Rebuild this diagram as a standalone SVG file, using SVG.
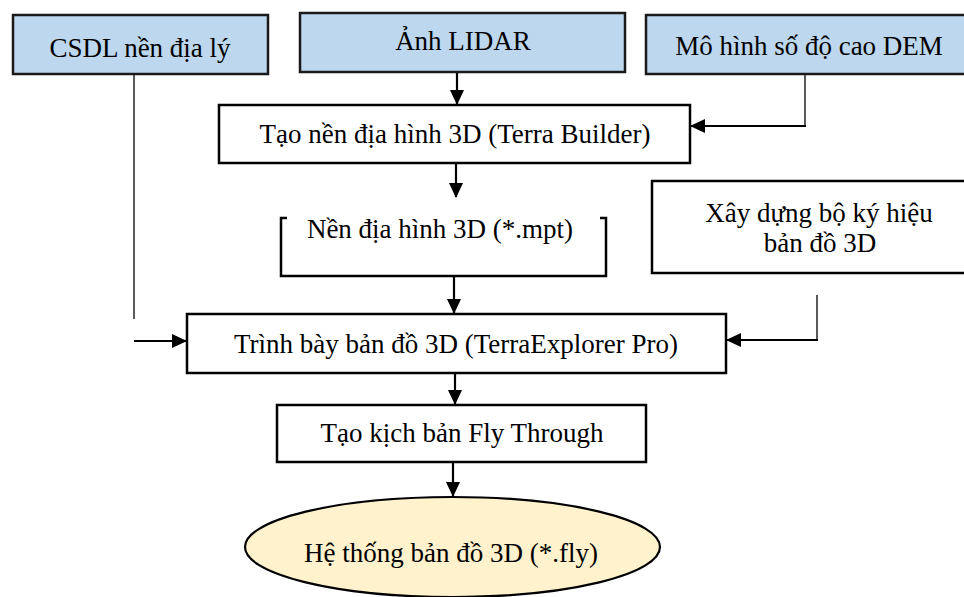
<svg xmlns="http://www.w3.org/2000/svg" width="964" height="597" viewBox="0 0 964 597">
<defs>
<marker id="ah" markerWidth="15" markerHeight="14" refX="14" refY="7" orient="auto" markerUnits="userSpaceOnUse">
<path d="M0,0 L15,7 L0,14 Z" fill="#000"/>
</marker>
<style>
.src{fill:#BDD7EE;stroke:#1a1a1a;stroke-width:2.5}
.box{fill:#fff;stroke:#000;stroke-width:2.5}
.t{font-family:"Liberation Serif","Times New Roman",serif;font-size:27px;fill:#000;text-anchor:middle}
.c{fill:none;stroke:#000;stroke-width:2.2}
.thin{fill:none;stroke:#000;stroke-width:1.3}
</style>
</defs>
<rect width="964" height="597" fill="#fff"/>
<g id="connectors">
<line class="thin" x1="134" y1="74" x2="134" y2="319"/>
<line class="c" x1="134" y1="341" x2="186" y2="341" marker-end="url(#ah)"/>
<line class="c" x1="457" y1="72" x2="457" y2="104" marker-end="url(#ah)"/>
<polyline class="thin" points="805,74 805,126"/>
<line class="c" x1="806" y1="126" x2="691" y2="126" marker-end="url(#ah)"/>
<line class="c" x1="456" y1="163" x2="456" y2="197" marker-end="url(#ah)"/>
<line class="c" x1="454" y1="276" x2="454" y2="313" marker-end="url(#ah)"/>
<polyline class="thin" points="817,295 817,340"/>
<line class="c" x1="818" y1="340" x2="727" y2="340" marker-end="url(#ah)"/>
<line class="c" x1="455" y1="373" x2="455" y2="404" marker-end="url(#ah)"/>
<line class="c" x1="453" y1="462" x2="453" y2="496" marker-end="url(#ah)"/>
</g>
<g id="csdl">
<rect class="src" x="13" y="15" width="255" height="59"/>
<text class="t" x="140" y="57">CSDL nền địa lý</text>
</g>
<g id="lidar">
<rect class="src" x="300" y="13" width="325" height="59"/>
<text class="t" x="463" y="50">Ảnh LIDAR</text>
</g>
<g id="dem">
<rect class="src" x="646" y="15" width="330" height="59"/>
<text class="t" x="809" y="55">Mô hình số độ cao DEM</text>
</g>
<g id="terrabuilder">
<rect class="box" x="219" y="105" width="471" height="58"/>
<text class="t" x="455" y="143">Tạo nền địa hình 3D (Terra Builder)</text>
</g>
<g id="mpt">
<path class="box" d="M287,218 H281 V276 H606 V218 H600" fill="none"/>
<text class="t" x="440" y="238">Nền địa hình 3D (*.mpt)</text>
</g>
<g id="kyhieu">
<rect class="box" x="652" y="181" width="330" height="92"/>
<text class="t" x="819" y="222">Xây dựng bộ ký hiệu</text>
<text class="t" x="820" y="252">bản đồ 3D</text>
</g>
<g id="trinhbay">
<rect class="box" x="187" y="314" width="539" height="59"/>
<text class="t" x="456" y="353">Trình bày bản đồ 3D (TerraExplorer Pro)</text>
</g>
<g id="flythrough">
<rect class="box" x="277" y="405" width="369" height="57"/>
<text class="t" x="462" y="442">Tạo kịch bản Fly Through</text>
</g>
<g id="fly">
<ellipse cx="452.5" cy="547" rx="207.5" ry="50" fill="#FFF2CC" stroke="#000" stroke-width="2.2"/>
<text class="t" x="451" y="562">Hệ thống bản đồ 3D (*.fly)</text>
</g>
</svg>
